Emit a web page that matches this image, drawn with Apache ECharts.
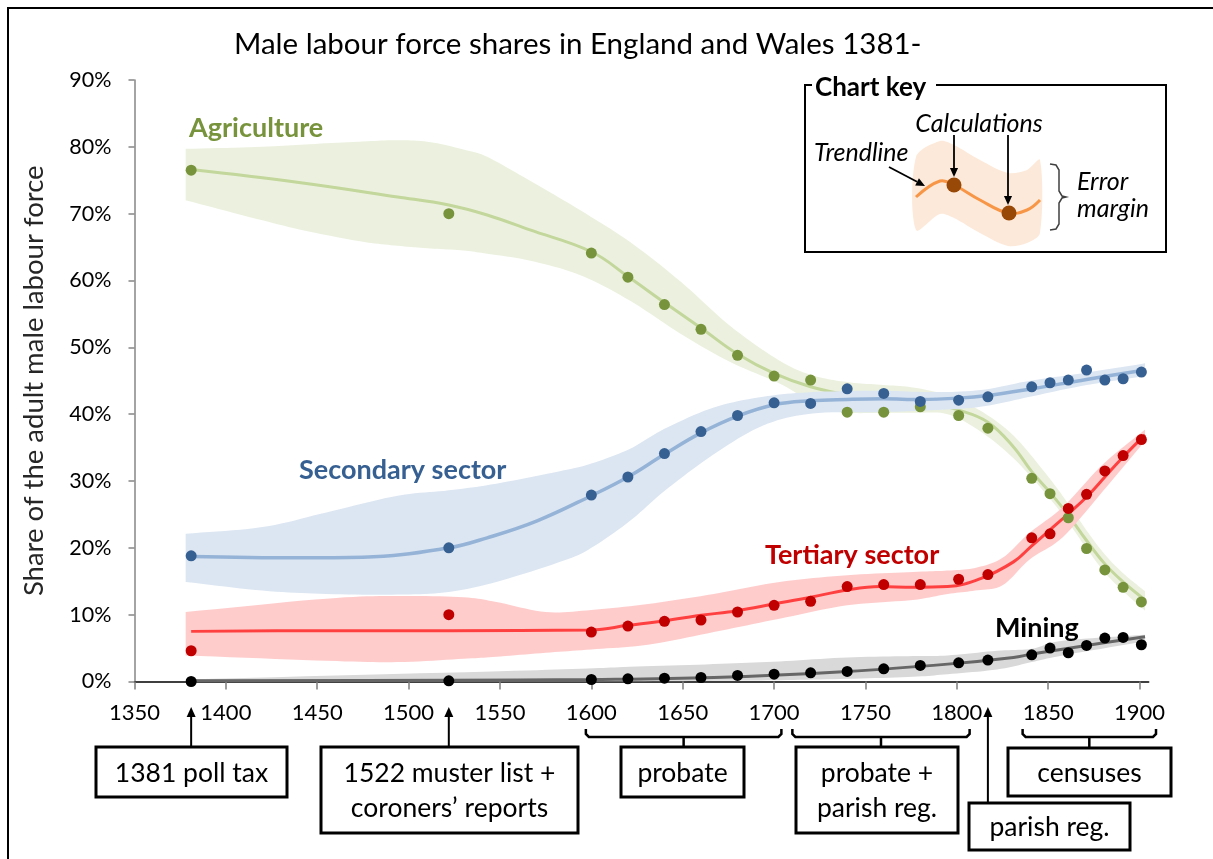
<!DOCTYPE html>
<html>
<head>
<meta charset="utf-8">
<title>Male labour force shares in England and Wales</title>
<script src="https://cdn.jsdelivr.net/npm/echarts@6/dist/echarts.min.js"></script>
<style>
  html, body { margin: 0; padding: 0; background: #fff; }
  #chart { width: 1213px; height: 859px; }
</style>
</head>
<body>
<div id="chart"></div>
<script>
// x 轴刻度
const tickYears = [1350, 1400, 1450, 1500, 1550, 1600, 1650, 1700, 1750, 1800, 1850, 1900]

// 计算点（%）
const years = [1381, 1522, 1600, 1620, 1640, 1660, 1680, 1700, 1720, 1740, 1760, 1780, 1801, 1817, 1841, 1851, 1861, 1871, 1881, 1891, 1901]
const agriPts = [76.5, 70.0, 64.1, 60.5, 56.4, 52.7, 48.8, 45.7, 45.1, 40.3, 40.3, 41.1, 39.8, 37.9, 30.4, 28.1, 24.5, 19.9, 16.7, 14.1, 11.9]
const secPts = [18.8, 20.0, 27.9, 30.6, 34.1, 37.4, 39.8, 41.7, 41.6, 43.8, 43.1, 41.9, 42.1, 42.6, 44.1, 44.7, 45.1, 46.6, 45.1, 45.3, 46.3]
const terPts = [4.6, 10.0, 7.4, 8.3, 9.0, 9.2, 10.4, 11.4, 12.0, 14.2, 14.5, 14.5, 15.3, 16.0, 21.5, 22.1, 25.9, 28.0, 31.5, 33.8, 36.2]
const minPts = [0.0, 0.1, 0.3, 0.4, 0.5, 0.6, 0.9, 1.1, 1.3, 1.5, 1.9, 2.4, 2.8, 3.2, 4.0, 5.0, 4.3, 5.4, 6.5, 6.6, 5.5]

// 趋势线
const agriTrendYears = [1381, 1439, 1494, 1522, 1543, 1566, 1600, 1620, 1640, 1660, 1680, 1700, 1720, 1740, 1760, 1780, 1801, 1817, 1831, 1841, 1851, 1861, 1871, 1881, 1891, 1903]
const agriTrend = [76.6, 74.7, 72.5, 71.3, 69.8, 67.6, 64.3, 60.6, 56.7, 52.9, 49.0, 46.1, 44.1, 42.9, 42.3, 42.0, 40.6, 38.8, 35.1, 31.4, 28.3, 24.9, 21.1, 17.6, 14.9, 12.2]
const secTrendYears = [1381, 1439, 1475, 1522, 1543, 1570, 1600, 1620, 1640, 1660, 1680, 1700, 1720, 1740, 1760, 1780, 1801, 1817, 1841, 1871, 1903]
const secTrend = [18.7, 18.5, 18.6, 20.0, 21.5, 24.0, 27.8, 30.6, 34.0, 37.2, 39.7, 41.4, 42.0, 42.2, 42.3, 42.2, 42.4, 42.8, 43.8, 45.2, 46.6]
const terTrendYears = [1381, 1450, 1522, 1600, 1620, 1640, 1660, 1680, 1700, 1720, 1740, 1758, 1776, 1795, 1813, 1831, 1841, 1851, 1861, 1871, 1881, 1891, 1903]
const terTrend = [7.5, 7.6, 7.6, 7.7, 8.4, 9.1, 9.9, 10.6, 11.6, 12.6, 13.7, 14.2, 14.1, 14.2, 15.4, 17.9, 20.3, 22.7, 25.1, 27.6, 30.6, 33.6, 36.9]
const minTrendYears = [1381, 1522, 1600, 1667, 1740, 1795, 1831, 1841, 1871, 1903]
const minTrend = [0.1, 0.2, 0.3, 0.6, 1.5, 2.6, 3.6, 4.1, 5.4, 6.7]

// 误差范围
const agriBandYears = [1378, 1420, 1446, 1475, 1494, 1512, 1530, 1543, 1566, 1594, 1621, 1649, 1676, 1703, 1721, 1740, 1758, 1776, 1795, 1813, 1831, 1849, 1861, 1871, 1881, 1891, 1903]
const agriLow = [72.0, 69.0, 67.3, 65.8, 65.2, 64.8, 64.5, 64.0, 63.0, 60.8, 57.0, 52.0, 47.8, 44.6, 41.8, 40.3, 40.2, 40.2, 40.0, 37.4, 33.4, 28.0, 23.8, 19.9, 16.3, 13.5, 10.6]
const agriHigh = [79.7, 80.0, 80.4, 80.8, 81.0, 80.7, 79.6, 78.5, 75.0, 70.5, 65.8, 59.8, 53.2, 48.0, 45.8, 44.8, 44.4, 44.0, 42.8, 40.5, 36.8, 31.0, 26.6, 22.6, 19.0, 16.2, 13.5]
const secBandYears = [1378, 1420, 1455, 1494, 1522, 1548, 1585, 1600, 1621, 1640, 1667, 1694, 1721, 1758, 1786, 1813, 1840, 1868, 1903]
const secLow = [14.9, 13.6, 13.1, 13.0, 13.4, 14.9, 18.1, 20.0, 24.0, 28.5, 34.0, 38.3, 40.1, 40.3, 40.6, 41.1, 42.6, 44.2, 45.7]
const secHigh = [22.1, 23.1, 25.3, 27.8, 28.6, 29.6, 31.6, 32.6, 34.8, 37.8, 41.0, 42.6, 43.3, 43.5, 43.3, 43.6, 45.0, 46.1, 47.6]
const terBandYears = [1378, 1455, 1494, 1530, 1548, 1575, 1600, 1631, 1667, 1703, 1740, 1776, 1795, 1810, 1825, 1840, 1858, 1880, 1903]
const terLow = [3.9, 3.1, 2.9, 3.4, 3.7, 4.3, 4.8, 5.5, 7.4, 9.4, 11.4, 12.2, 13.1, 13.6, 14.4, 18.3, 21.6, 28.5, 36.0]
const terHigh = [10.4, 12.4, 12.8, 12.6, 11.9, 10.4, 10.7, 11.6, 13.1, 14.9, 15.9, 16.4, 16.6, 17.0, 18.5, 22.3, 26.1, 32.5, 37.7]
const minBandYears = [1378, 1531, 1594, 1621, 1667, 1703, 1740, 1776, 1795, 1822, 1841, 1858, 1903]
const minLow = [0, 0, 0, 0, 0.1, 0.2, 0.4, 0.7, 1.1, 1.8, 2.9, 3.9, 6.0]
const minHigh = [0.3, 1.4, 1.9, 2.2, 2.6, 3.0, 3.6, 3.8, 3.9, 4.6, 4.9, 6.1, 7.0]

// 资料来源标注
const arrowYears = [1381, 1522, 1817]
const braceRanges = [[1597, 1704], [1710, 1807], [1836, 1909]]

const FONT = 'Lato, "Noto Sans", sans-serif'

function pairs(xs, ys) {
  return xs.map((x, i) => [x, ys[i]])
}

// 像素空间的平滑曲线（Hermite 插值，只用于绘制边缘）
function smoothPath(pts) {
  const out = []
  const n = pts.length
  const tan = pts.map((p, i) => {
    const a = pts[Math.max(i - 1, 0)], b = pts[Math.min(i + 1, n - 1)]
    const k = (i === 0 || i === n - 1) ? 1 : 0.5
    return [(b[0] - a[0]) * k, (b[1] - a[1]) * k]
  })
  for (let i = 0; i < n - 1; i++) {
    const p0 = pts[i], p1 = pts[i + 1], m0 = tan[i], m1 = tan[i + 1]
    for (let s = 0; s < 10; s++) {
      const t = s / 10, t2 = t * t, t3 = t2 * t
      const h00 = 2 * t3 - 3 * t2 + 1, h10 = t3 - 2 * t2 + t, h01 = -2 * t3 + 3 * t2, h11 = t3 - t2
      out.push([
        h00 * p0[0] + h10 * m0[0] + h01 * p1[0] + h11 * m1[0],
        h00 * p0[1] + h10 * m0[1] + h01 * p1[1] + h11 * m1[1]
      ])
    }
  }
  out.push(pts[n - 1])
  return out
}

// 误差带：自定义系列，用坐标轴换算后画多边形
function band(name, xs, low, high, color, z) {
  return {
    name: name, type: 'custom', silent: true, z: z,
    data: xs.map((x, i) => [x, low[i], high[i]]),
    encode: { x: 0, y: [1, 2] },
    renderItem: function (params, api) {
      if (params.dataIndex !== 0) return
      const top = smoothPath(xs.map((x, i) => api.coord([x, high[i]])))
      const bot = smoothPath(xs.map((x, i) => api.coord([x, low[i]]))).reverse()
      return {
        type: 'polygon',
        shape: { points: top.concat(bot) },
        style: { fill: color },
        clipPath: { type: 'rect', shape: { x: params.coordSys.x, y: params.coordSys.y, width: params.coordSys.width, height: params.coordSys.height } }
      }
    }
  }
}

function trend(name, xs, ys, color, width, z) {
  return {
    name: name, type: 'line', smooth: 0.4, symbol: 'none', silent: true, z: z,
    lineStyle: { color: color, width: width },
    data: pairs(xs, ys)
  }
}

function dots(name, ys, color) {
  return {
    name: name, type: 'scatter', symbolSize: 11, z: 20,
    itemStyle: { color: color, opacity: 1 },
    data: pairs(years, ys)
  }
}

const chart = echarts.init(document.getElementById('chart'))

const option = {
  animation: false,
  title: {
    text: 'Male labour force shares in England and Wales 1381-',
    left: 229, top: 24,
    textStyle: { fontFamily: FONT, fontSize: 29.5, fontWeight: 'normal', color: '#000' }
  },
  grid: { left: 134.5, right: 64.3, top: 80, bottom: 177.5 },
  xAxis: {
    type: 'value', min: 1350, max: 1905,
    axisLine: { lineStyle: { color: '#000', width: 1.5 } },
    axisTick: { customValues: tickYears, length: 8, lineStyle: { color: '#7f7f7f', width: 1.5 } },
    axisLabel: { customValues: tickYears, formatter: v => String(v), fontFamily: FONT, fontSize: 22, color: '#000', margin: 20 },
    splitLine: { show: false }
  },
  yAxis: {
    type: 'value', min: 0, max: 90, interval: 10,
    name: 'Share of the adult male labour force',
    nameLocation: 'middle', nameGap: 86,
    nameTextStyle: { fontFamily: FONT, fontSize: 27.5, color: '#262626' },
    axisLine: { show: true, lineStyle: { color: '#868686', width: 1.5 } },
    axisTick: { show: true, length: 6, lineStyle: { color: '#868686', width: 1.5 } },
    axisLabel: { formatter: '{value}%', fontFamily: FONT, fontSize: 21.5, color: '#000', margin: 23 },
    splitLine: { show: false }
  },
  series: [
    band('agriBand', agriBandYears, agriLow, agriHigh, '#ebf1de', 1),
    trend('Agriculture trend', agriTrendYears, agriTrend, '#c3d69b', 3, 2),
    band('secBand', secBandYears, secLow, secHigh, '#dce6f2', 3),
    trend('Secondary trend', secTrendYears, secTrend, '#95b3d7', 3.5, 4),
    band('terBand', terBandYears, terLow, terHigh, '#ffcccc', 5),
    trend('Tertiary trend', terTrendYears, terTrend, '#ff4040', 3, 6),
    band('minBand', minBandYears, minLow, minHigh, '#d9d9d9', 7),
    trend('Mining trend', minTrendYears, minTrend, '#666666', 3, 8),
    dots('Agriculture', agriPts, '#77933c'),
    dots('Secondary sector', secPts, '#376092'),
    dots('Tertiary sector', terPts, '#c00000'),
    dots('Mining', minPts, '#000000')
  ]
}

chart.setOption(option)

// ---- 标注图形 ----
function px(year) {
  return chart.convertToPixel({ xAxisIndex: 0 }, year)
}

function arrow(x1, y1, x2, y2, color, width, head) {
  const ang = Math.atan2(y2 - y1, x2 - x1)
  const h = head || 9
  const w = h * 0.45
  const bx = x2 - h * Math.cos(ang), by = y2 - h * Math.sin(ang)
  return [
    { type: 'line', shape: { x1: x1, y1: y1, x2: bx, y2: by }, style: { stroke: color, lineWidth: width } },
    {
      type: 'polygon',
      shape: { points: [[x2, y2], [bx + w * Math.sin(ang), by - w * Math.cos(ang)], [bx - w * Math.sin(ang), by + w * Math.cos(ang)]] },
      style: { fill: color }
    }
  ]
}

function box(x, y, w, h, text) {
  return [
    { type: 'rect', shape: { x: x, y: y, width: w, height: h }, style: { fill: '#fff', stroke: '#000', lineWidth: 3 } },
    {
      type: 'text', z: 101,
      style: { text: text, x: x + w / 2, y: y + h / 2 + 1, align: 'center', verticalAlign: 'middle', font: '26.5px ' + FONT, fill: '#000', lineHeight: 35 }
    }
  ]
}

function brace(x1, x2, y) {
  const cx = (x1 + x2) / 2
  return [
    { type: 'polyline', shape: { points: [[x1, y - 8], [x1, y - 3], [x1 + 3, y], [x2 - 3, y], [x2, y - 3], [x2, y - 8]] }, style: { stroke: '#000', lineWidth: 2.5, fill: null } },
    { type: 'line', shape: { x1: cx, y1: y, x2: cx, y2: y + 10 }, style: { stroke: '#000', lineWidth: 2.5 } }
  ]
}

function label(text, x, y, color) {
  return { type: 'text', z: 100, style: { text: text, x: x, y: y, verticalAlign: 'middle', font: 'bold 27px ' + FONT, fill: color } }
}

const g = []

// 外框
g.push({ type: 'rect', shape: { x: 8, y: 8, width: 1230, height: 880 }, style: { fill: null, stroke: '#000', lineWidth: 2 } })

// 系列名称
g.push(label('Agriculture', 189, 128, '#77933c'))
g.push(label('Secondary sector', 299, 470, '#376092'))
g.push(label('Tertiary sector', 765, 555, '#c00000'))
g.push(label('Mining', 995, 628, '#000'))

// 来源箭头和框
const boxTops = [747, 747, 803]
arrowYears.forEach((yr, i) => {
  g.push(...arrow(px(yr), boxTops[i], px(yr), 707, '#000', 2, 10))
})
braceRanges.forEach(r => {
  g.push(...brace(px(r[0]), px(r[1]), 737))
})
g.push(...box(96, 747, 191, 50, '1381 poll tax'))
g.push(...box(321, 747, 257, 86, '1522 muster list +\ncoroners\u2019 reports'))
g.push(...box(621, 747, 123, 50, 'probate'))
g.push(...box(796, 747, 162, 86, 'probate +\nparish reg.'))
g.push(...box(1008, 748, 163, 48, 'censuses'))
g.push(...box(969, 803, 161, 47, 'parish reg.'))

// 图例框 Chart key
g.push({ type: 'polyline', shape: { points: [[936, 85], [1166, 85], [1166, 252], [805, 252], [805, 85], [812, 85]] }, style: { stroke: '#000', lineWidth: 2, fill: null } })
g.push({ type: 'text', style: { text: 'Chart key', x: 815, y: 88, verticalAlign: 'middle', font: 'bold 26px ' + FONT, fill: '#000' } })
const keyLine = [[916, 197], [940, 181], [954, 185], [980, 200], [1008, 213], [1027, 210], [1040, 200]]
const keyTop = keyLine.map(p => [p[0], p[1] - 40])
const keyBot = keyLine.map(p => [p[0], p[1] + 33]).reverse()
g.push({ type: 'polygon', shape: { points: keyTop.concat(keyBot), smooth: 0.3 }, style: { fill: '#fde9d9' } })
g.push({ type: 'polyline', shape: { points: keyLine, smooth: 0.4 }, style: { stroke: '#f79646', lineWidth: 3, fill: null } })
g.push({ type: 'circle', shape: { cx: 954, cy: 185, r: 7.5 }, style: { fill: '#984807' } })
g.push({ type: 'circle', shape: { cx: 1009, cy: 213, r: 7.5 }, style: { fill: '#984807' } })
g.push({ type: 'text', style: { text: 'Calculations', x: 979, y: 124, align: 'center', verticalAlign: 'middle', font: 'italic 25px ' + FONT, fill: '#000' } })
g.push({ type: 'text', style: { text: 'Trendline', x: 814, y: 153, verticalAlign: 'middle', font: 'italic 25px ' + FONT, fill: '#000' } })
g.push({ type: 'text', style: { text: 'Error\nmargin', x: 1077, y: 195, verticalAlign: 'middle', font: 'italic 25px ' + FONT, fill: '#000', lineHeight: 27 } })
g.push(...arrow(889, 167, 925, 186, '#000', 1.8, 9))
g.push(...arrow(954, 135, 954, 177, '#000', 1.8, 9))
g.push(...arrow(1008, 135, 1008, 205, '#000', 1.8, 9))
g.push({
  type: 'polyline',
  shape: { points: [[1050, 164], [1056, 165], [1059, 170], [1059, 191], [1062, 196], [1066, 197], [1062, 198], [1059, 203], [1059, 224], [1056, 229], [1050, 230]] },
  style: { stroke: '#404040', lineWidth: 1.5, fill: null }
})

chart.setOption({ graphic: g })
</script>
</body>
</html>
